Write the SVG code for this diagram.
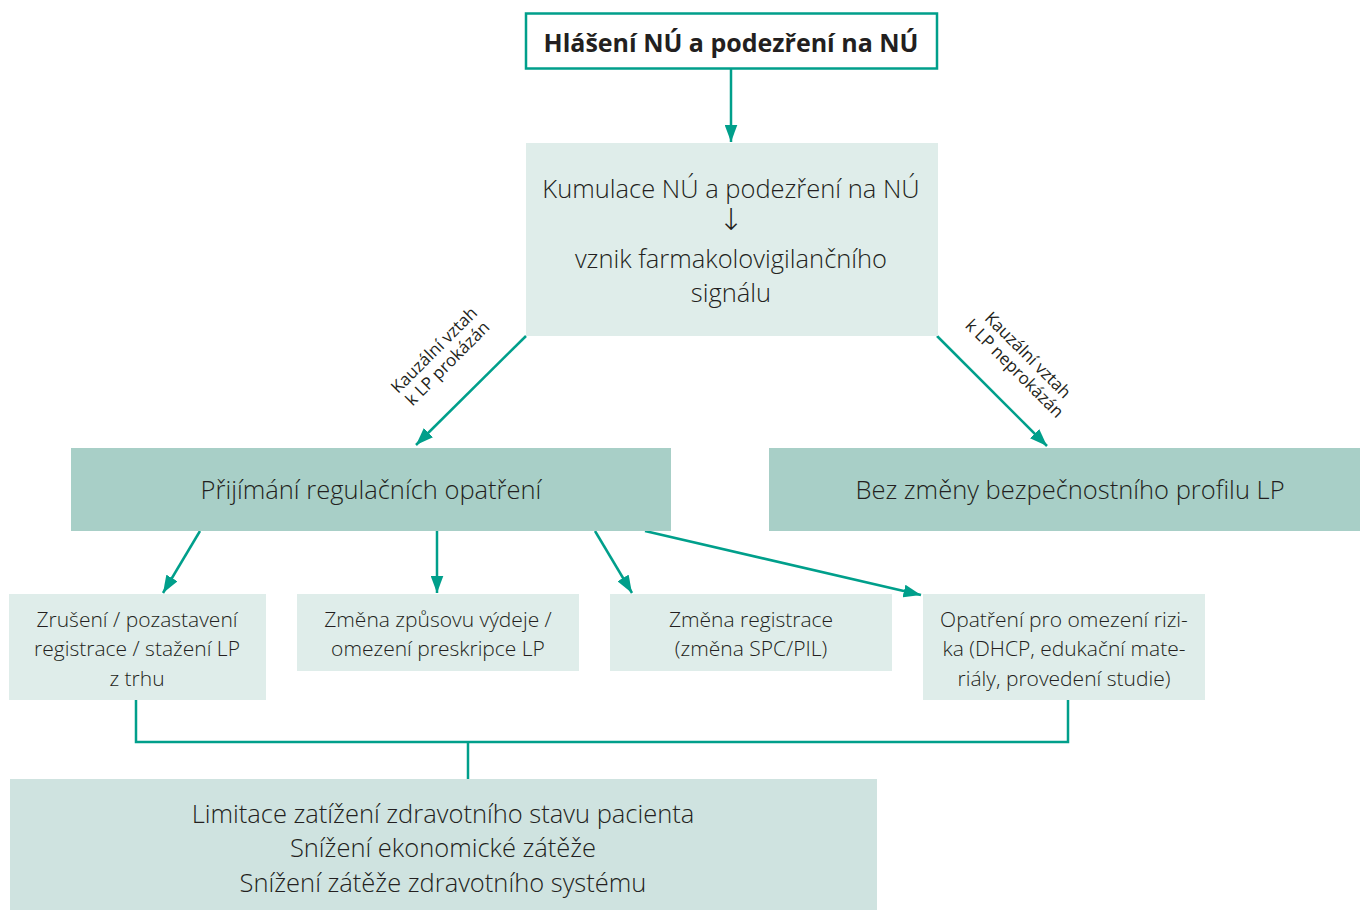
<svg xmlns="http://www.w3.org/2000/svg" width="1360" height="910" viewBox="0 0 1360 910">
<style>
text{font-family:"Open Sans","Noto Sans","Liberation Sans",sans-serif;fill:#231f20;text-anchor:middle}
.t{font-size:25.5px;font-weight:300}
.s{font-size:21px;font-weight:300}
.r{font-size:17px;font-weight:400}
.c{stroke:#009f8b;stroke-width:2.5;fill:none}
.light{fill:#dfedea}
.mid{fill:#a8cfc7}
.bot{fill:#cfe3e0}
</style>
<defs>
<marker id="ah" viewBox="0 0 14 10" refX="14" refY="5" markerWidth="7" markerHeight="5.2" markerUnits="strokeWidth" orient="auto" preserveAspectRatio="none">
<path d="M0,0 L14,5 L0,10 z" fill="#009f8b"/>
</marker>
</defs>
<g id="connectors">
<line class="c" x1="731" y1="69" x2="731" y2="142" marker-end="url(#ah)"/>
<line class="c" x1="526" y1="336" x2="416" y2="445" marker-end="url(#ah)"/>
<line class="c" x1="937" y1="336" x2="1047" y2="446" marker-end="url(#ah)"/>
<line class="c" x1="200" y1="531" x2="163" y2="593" marker-end="url(#ah)"/>
<line class="c" x1="437" y1="531" x2="437" y2="593" marker-end="url(#ah)"/>
<line class="c" x1="595" y1="531" x2="632" y2="593" marker-end="url(#ah)"/>
<line class="c" x1="645" y1="531" x2="921" y2="595" marker-end="url(#ah)"/>
<polyline class="c" points="136,700 136,742 1068,742 1068,700"/>
<line class="c" x1="468" y1="742" x2="468" y2="779"/>
</g>
<g id="n1">
<rect x="526" y="13.5" width="411" height="55" fill="#fff" stroke="#009f8b" stroke-width="2.5"/>
<text x="731" y="52" style="font-size:25px;font-weight:700">Hlášení NÚ a podezření na NÚ</text>
</g>
<g id="n2">
<rect class="light" x="526" y="143" width="412" height="193"/>
<text class="t" x="731" y="198">Kumulace NÚ a podezření na NÚ</text>
<text x="731" y="230" style="font-family:'DejaVu Sans',sans-serif;font-size:30px;font-weight:300">↓</text>
<text class="t" x="731" y="268">vznik farmakolovigilančního</text>
<text class="t" x="731" y="302">signálu</text>
</g>
<g id="lbl1">
<text class="r" transform="translate(441,357) rotate(-45)"><tspan x="0" y="-4">Kauzální vztah</tspan><tspan x="0" y="15">k LP prokázán</tspan></text>
</g>
<g id="lbl2">
<text class="r" transform="translate(1021,362) rotate(45)"><tspan x="0" y="-4">Kauzální vztah</tspan><tspan x="0" y="15">k LP neprokázán</tspan></text>
</g>
<g id="n3">
<rect class="mid" x="71" y="448" width="600" height="83"/>
<text class="t" x="371" y="499">Přijímání regulačních opatření</text>
</g>
<g id="n4">
<rect class="mid" x="769" y="448" width="591" height="83"/>
<text class="t" x="1070" y="499">Bez změny bezpečnostního profilu LP</text>
</g>
<g id="n5">
<rect class="light" x="9" y="594" width="257" height="106"/>
<text class="s" x="137" y="627">Zrušení / pozastavení</text>
<text class="s" x="137" y="656">registrace / stažení LP</text>
<text class="s" x="137" y="686">z trhu</text>
</g>
<g id="n6">
<rect class="light" x="297" y="594" width="282" height="77"/>
<text class="s" x="438" y="627">Změna způsovu výdeje /</text>
<text class="s" x="438" y="656">omezení preskripce LP</text>
</g>
<g id="n7">
<rect class="light" x="610" y="594" width="282" height="77"/>
<text class="s" x="751" y="627">Změna registrace</text>
<text class="s" x="751" y="656">(změna SPC/PIL)</text>
</g>
<g id="n8">
<rect class="light" x="923" y="594" width="282" height="106"/>
<text class="s" x="1064" y="627">Opatření pro omezení rizi-</text>
<text class="s" x="1064" y="656">ka (DHCP, edukační mate-</text>
<text class="s" x="1064" y="686">riály, provedení studie)</text>
</g>
<g id="n9">
<rect class="bot" x="10" y="779" width="867" height="131"/>
<text class="t" x="443" y="823">Limitace zatížení zdravotního stavu pacienta</text>
<text class="t" x="443" y="857">Snížení ekonomické zátěže</text>
<text class="t" x="443" y="892">Snížení zátěže zdravotního systému</text>
</g>
</svg>
